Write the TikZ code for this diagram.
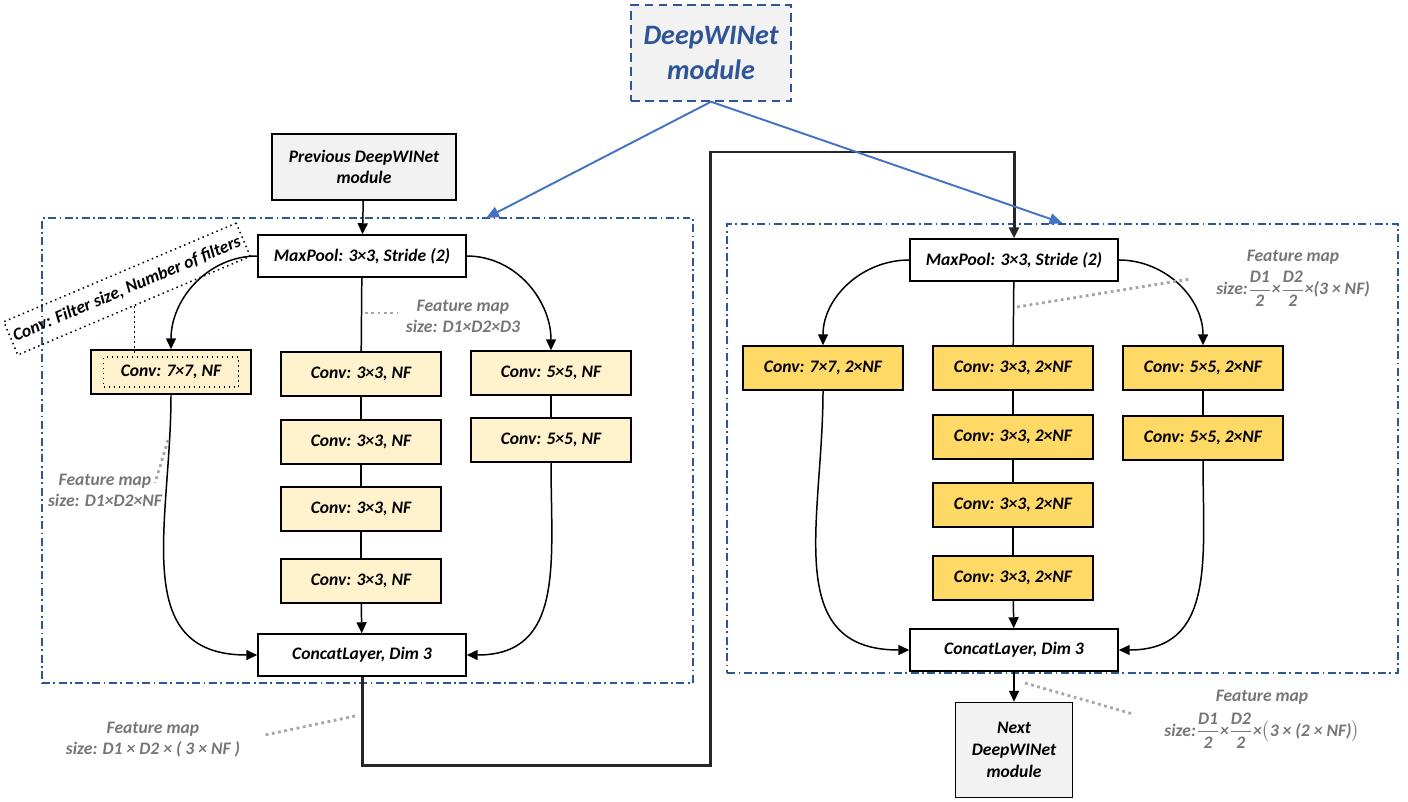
\documentclass[tikz,border=0pt]{standalone}
\usepackage{fontspec}
\setmainfont{Carlito}
\usetikzlibrary{arrows.meta, positioning, fit}
\definecolor{modblue}{HTML}{2F5597}
\definecolor{arrblue}{HTML}{4472C4}
\definecolor{boxgray}{HTML}{F2F2F2}
\definecolor{convlight}{HTML}{FFF2CC}
\definecolor{convdeep}{HTML}{FFD966}
\definecolor{lblgray}{HTML}{767676}
\definecolor{dotgray}{HTML}{A6A6A6}
\definecolor{loopgray}{HTML}{262626}

\begin{document}
\begin{tikzpicture}[x=0.02cm, y=-0.02cm,
      every node/.style={font=\fontsize{10}{12}\selectfont\bfseries\itshape},
      layer/.style={draw, line width=0.85pt, minimum width=3.2cm, minimum height=0.88cm, inner sep=2pt},
      convA/.style={layer, fill=convlight},
      convB/.style={layer, fill=convdeep},
      pool/.style={layer, fill=white, minimum width=4.16cm, minimum height=0.84cm},
      ext/.style={layer, fill=boxgray, align=center},
      group/.style={draw=modblue, line width=1.1pt, dash pattern=on 4.5pt off 2pt on 1pt off 2pt},
      arr/.style={-{Triangle[length=2.2mm, width=2mm]}, line width=0.85pt},
      link/.style={line width=0.85pt},
      blu/.style={-{Triangle[length=2.6mm, width=2.2mm]}, line width=1.1pt, draw=arrblue, fill=arrblue},
      fmap/.style={text=lblgray, align=center, font=\fontsize{10}{12}\selectfont\bfseries\itshape},
      ptr/.style={draw=dotgray, line width=1.6pt, dotted}
    ]
    \useasboundingbox (0,0) rectangle (1408,801);

    % module groups
    \node[group, minimum width=13.02cm, minimum height=9.3cm] (grpL) at (367.5,450.5) {};
    \node[group, minimum width=13.42cm, minimum height=8.98cm] (grpR) at (1062.5,448.5) {};

    \node[ext, draw=modblue, dash pattern=on 5pt off 3pt, text=modblue, minimum width=3.2cm, minimum height=1.92cm,
          font=\fontsize{16}{20}\selectfont\bfseries\itshape] (mod) at (711,53) {DeepWINet\\module};

    % left module
    \node[ext, minimum width=3.68cm, minimum height=1.32cm] (prev) at (364,167) {Previous DeepWINet\\module};
    \node[pool] (mpL) at (362,256) {MaxPool: 3×3, Stride (2)};
    \node[convA] (c7L) at (171,372) {Conv: 7×7, NF};
    \node[draw, dotted, line width=0.85pt, minimum width=2.7cm, minimum height=0.6cm] (c7Lsel) at (c7L) {};
    \node[convA] (c3La) at (361,374) {Conv: 3×3, NF};
    \node[convA] (c3Lb) at (361,442) {Conv: 3×3, NF};
    \node[convA] (c3Lc) at (361,509) {Conv: 3×3, NF};
    \node[convA] (c3Ld) at (361,581) {Conv: 3×3, NF};
    \node[convA] (c5La) at (551,373) {Conv: 5×5, NF};
    \node[convA] (c5Lb) at (551,440) {Conv: 5×5, NF};
    \node[pool] (catL) at (362,655) {ConcatLayer, Dim 3};

    % right module
    \node[pool] (mpR) at (1014,260) {MaxPool: 3×3, Stride (2)};
    \node[convB] (c7R) at (823,368) {Conv: 7×7, 2×NF};
    \node[convB] (c3Ra) at (1013,368) {Conv: 3×3, 2×NF};
    \node[convB] (c3Rb) at (1013,437) {Conv: 3×3, 2×NF};
    \node[convB] (c3Rc) at (1013,505) {Conv: 3×3, 2×NF};
    \node[convB] (c3Rd) at (1013,578) {Conv: 3×3, 2×NF};
    \node[convB] (c5Ra) at (1203,368) {Conv: 5×5, 2×NF};
    \node[convB] (c5Rb) at (1203,438) {Conv: 5×5, 2×NF};
    \node[pool] (catR) at (1014,650) {ConcatLayer, Dim 3};
    \node[ext, minimum width=2.34cm, minimum height=1.9cm, font=\fontsize{10}{12.5}\selectfont\bfseries\itshape] (next) at (1014,750) {Next\\DeepWINet\\module};

    % annotations
    \node[draw, dotted, line width=0.85pt, rotate=23, minimum width=5.05cm, minimum height=0.72cm, inner sep=1pt,
          font=\fontsize{10}{11}\selectfont\bfseries\itshape] (tag) at (127,289) {Conv: Filter size, Number of filters};
    \node[fmap] (fmA) at (463,316) {Feature map\\size: D1×D2×D3};
    \node[fmap] (fmB) at (105,490) {Feature map\\size: D1×D2×NF};
    \node[fmap] (fmC) at (153,740) {Feature map\\size: D1 × D2 × ( 3 × NF )};
    \node[fmap] (fmD) at (1293,278) {Feature map\\[3pt]size:$\displaystyle\frac{\mbox{D1}}{\mbox{2}}$×$\displaystyle\frac{\mbox{D2}}{\mbox{2}}$×(3 × NF)};
    \node[fmap] (fmE) at (1262,719) {Feature map\\[4pt]size:$\displaystyle\frac{\mbox{D1}}{\mbox{2}}$×$\displaystyle\frac{\mbox{D2}}{\mbox{2}}$×$\bigl($3 × (2 × NF)$\bigr)$};
    \coordinate (loopbot) at (710,765);
    \coordinate (looptop) at (710,152);
    \coordinate (hitL) at (486,218);
    \coordinate (pA) at (365,313);
    \coordinate (pB) at (168,440);
    \coordinate (pC) at (355,716);
    \coordinate (pD) at (1017,307);
    \coordinate (pE) at (1025,683);

    % left connectors
    \draw[arr] (prev) -- (mpL);
    \draw[arr] (mpL.west) to[out=180, in=90] (c7L.north);
    \draw[arr] (mpL.east) to[out=0, in=90] (c5La.north);
    \draw[link] (mpL) -- (c3La);
    \draw[link] (c3La) -- (c3Lb);
    \draw[link] (c3Lb) -- (c3Lc);
    \draw[link] (c3Lc) -- (c3Ld);
    \draw[arr] (c3Ld) -- (catL);
    \draw[link] (c5La) -- (c5Lb);
    \draw[arr] (c7L.south) to[out=-90, in=180, looseness=1.2] (catL.west);
    \draw[arr] (c5Lb.south) to[out=-90, in=0, looseness=1.2] (catL.east);

    % right connectors
    \draw[arr, line width=1.7pt, draw=loopgray] (catL.south) |- (loopbot) -- (looptop) -| (mpR.north);
    \draw[arr] (mpR.west) to[out=180, in=90] (c7R.north);
    \draw[arr] (mpR.east) to[out=0, in=90] (c5Ra.north);
    \draw[link] (mpR) -- (c3Ra);
    \draw[link] (c3Ra) -- (c3Rb);
    \draw[link] (c3Rb) -- (c3Rc);
    \draw[link] (c3Rc) -- (c3Rd);
    \draw[arr] (c3Rd) -- (catR);
    \draw[link] (c5Ra) -- (c5Rb);
    \draw[arr] (c7R.south) to[out=-90, in=180, looseness=1.2] (catR.west);
    \draw[arr] (c5Rb.south) to[out=-90, in=0, looseness=1.2] (catR.east);
    \draw[arr] (catR) -- (next);

    % module pointers
    \draw[blu] (mod.south) -- (hitL);
    \draw[blu] (mod.south) -- (grpR.north);

    % label pointers
    \draw[dotted, line width=0.85pt] (tag.south) -- (tag.south |- c7Lsel.north);
    \draw[ptr] (pA) -- ++(33,0);
    \draw[ptr] (pB) -- (155,483);
    \draw[ptr] (pC) -- (265,735);
    \draw[ptr] (pD) -- (1190,279);
    \draw[ptr] (pE) -- (1133,714);
  \end{tikzpicture}
\end{document}
